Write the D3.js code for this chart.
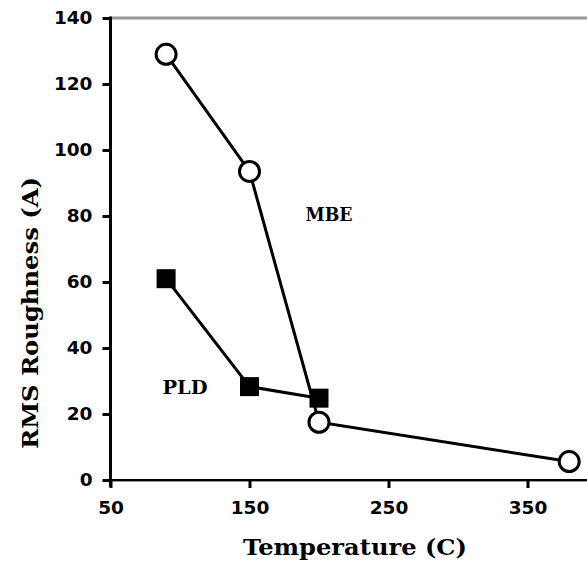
<!DOCTYPE html>
<html><head><meta charset="utf-8">
<script src="https://cdn.jsdelivr.net/npm/d3@7"></script>
<style>html,body{margin:0;padding:0;background:#fff;overflow:hidden}</style>
</head><body>
<svg id="c" width="587" height="586"></svg>
<script>
const mbeTemp = [90, 150, 200, 380];
const mbeRough = [129, 93.5, 17.5, 5.6];
const pldTemp = [90, 150, 200];
const pldRough = [61, 28.3, 24.8];
const xTicks = [50, 150, 250, 350];
const yTicks = [0, 20, 40, 60, 80, 100, 120, 140];

const svg = d3.select('#c');
const x = d3.scaleLinear().domain([50, 400]).range([110.5, 597]);
const y = d3.scaleLinear().domain([0, 140]).range([480, 18]);

const slabBold = "'DejaVu Serif','Liberation Serif',serif";
const sansBold = "'DejaVu Sans',Verdana,sans-serif";

// plot frame (gray)
svg.append('line').attr('x1', x(50)).attr('x2', 587).attr('y1', y(140)).attr('y2', y(140))
  .attr('stroke', '#999').attr('stroke-width', 3);
svg.append('line').attr('x1', x(50)).attr('x2', 587).attr('y1', y(0)+1).attr('y2', y(0)+1)
  .attr('stroke', '#999').attr('stroke-width', 2);

// y axis
const yAxis = svg.append('g').attr('transform', `translate(${x(50)},0)`)
  .call(d3.axisLeft(y).tickValues(yTicks).tickSize(8).tickPadding(10).tickFormat(d3.format('d')));
yAxis.select('.domain').attr('stroke', '#000').attr('stroke-width', 3).attr('d', `M0,${y(140)-1.5}V${y(0)+7}`);
yAxis.selectAll('.tick line').attr('stroke', '#000').attr('stroke-width', 3);
yAxis.selectAll('.tick text').attr('font-family', sansBold).attr('font-weight', 'bold')
  .attr('font-size', 18.5).attr('fill', '#000');

// x axis
const xAxis = svg.append('g').attr('transform', `translate(0,${y(0)})`)
  .call(d3.axisBottom(x).tickValues(xTicks).tickSize(8).tickPadding(13).tickFormat(d3.format('d')));
xAxis.select('.domain').attr('stroke', '#000').attr('stroke-width', 2).attr('d', `M${x(50)},0H587`);
xAxis.selectAll('.tick line').attr('stroke', '#000').attr('stroke-width', 3);
xAxis.selectAll('.tick text').attr('font-family', sansBold).attr('font-weight', 'bold')
  .attr('font-size', 18.5).attr('fill', '#000');

const line = d3.line().x(d => x(d[0])).y(d => y(d[1]));
const mbe = mbeTemp.map((t, i) => [t, mbeRough[i]]);
const pld = pldTemp.map((t, i) => [t, pldRough[i]]);

svg.append('path').datum(mbe).attr('d', line).attr('fill', 'none').attr('stroke', '#000').attr('stroke-width', 3);
svg.append('path').datum(pld).attr('d', line).attr('fill', 'none').attr('stroke', '#000').attr('stroke-width', 3);

svg.selectAll('rect.pld').data(pld).enter().append('rect').attr('class', 'pld')
  .attr('x', d => x(d[0]) - 9.5).attr('y', d => y(d[1]) - 9.5)
  .attr('width', 19).attr('height', 19).attr('fill', '#000');

svg.selectAll('circle.mbe').data(mbe).enter().append('circle').attr('class', 'mbe')
  .attr('cx', d => x(d[0])).attr('cy', d => y(d[1])).attr('r', 10)
  .attr('fill', '#fff').attr('stroke', '#000').attr('stroke-width', 3);

function slab(sel, len, fs) {
  return sel.attr('font-family', slabBold).attr('font-weight', 'bold').attr('font-size', fs)
    .attr('textLength', len).attr('lengthAdjust', 'spacingAndGlyphs').attr('text-anchor', 'middle');
}

// labels
slab(svg.append('text').attr('x', 329).attr('y', 214).attr('dy', '0.35em'), 47, 19).text('MBE');
slab(svg.append('text').attr('x', 185).attr('y', 387).attr('dy', '0.35em'), 45, 19).text('PLD');

slab(svg.append('text').attr('x', 355).attr('y', 547).attr('dy', '0.35em'), 224, 23).text('Temperature (C)');
slab(svg.append('text').attr('transform', 'translate(30,313) rotate(-90)').attr('dy', '0.35em'), 272, 23)
  .text('RMS Roughness (A)');
</script>
</body></html>
